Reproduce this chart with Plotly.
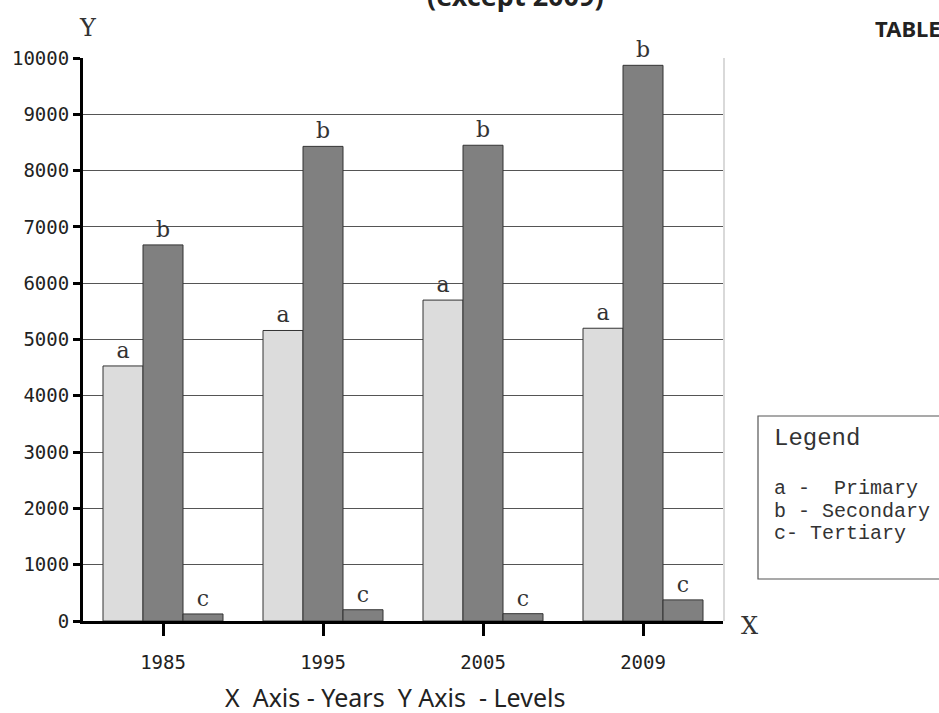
import plotly.graph_objects as go

years = ["1985", "1995", "2005", "2009"]
primary = [4530, 5160, 5700, 5200]
secondary = [6680, 8430, 8450, 9870]
tertiary = [125, 200, 130, 375]
series_names = ["a", "b", "c"]
legend_lines = ["a -  Primary", "b - Secondary", "c- Tertiary"]
y_ticks = [0, 1000, 2000, 3000, 4000, 5000, 6000, 7000, 8000, 9000, 10000]
y_tick_text = [str(v) for v in y_ticks]

W, H = 939, 713
L, R, T, B = 83, 216, 58, 92
PW, PH = W - L - R, H - T - B


def px(x):
    return (x - L) / PW


def py(y):
    return (H - B - y) / PH


fig = go.Figure()
fills = ["#dcdcdc", "#808080", "#808080"]
for name, vals, col in zip(series_names, [primary, secondary, tertiary], fills):
    fig.add_trace(go.Bar(
        x=years, y=vals, name=name, marker=dict(color=col, line=dict(color="#333333", width=1)),
        text=[name] * len(vals), textposition="outside", cliponaxis=False,
        textfont=dict(family="DejaVu Serif", size=22, color="#333333"),
        outsidetextfont=dict(family="DejaVu Serif", size=22, color="#333333"),
    ))

fig.update_layout(
    width=W, height=H, margin=dict(l=L, r=R, t=T, b=B),
    paper_bgcolor="white", plot_bgcolor="white",
    barmode="group", bargap=0.25, bargroupgap=0, showlegend=False,
    xaxis=dict(type="category", categoryorder="array", categoryarray=years,
               showline=True, linewidth=3, linecolor="black", ticks="outside",
               ticklen=12, tickwidth=3, tickcolor="black", showgrid=False,
               ticklabelstandoff=10,
               tickfont=dict(family="DejaVu Sans Mono", size=19, color="#222222")),
    yaxis=dict(range=[0, 10000], tickvals=y_ticks, ticktext=y_tick_text, showline=True, linewidth=3,
               linecolor="black", ticks="outside", ticklen=7, tickwidth=3,
               tickcolor="black", showgrid=True, gridcolor="#555555", gridwidth=1,
               zeroline=False,
               tickfont=dict(family="DejaVu Sans Mono", size=19, color="#222222")),
)

shapes = [
    dict(type="line", xref="paper", yref="paper", x0=px(724), x1=px(724), y0=0, y1=1,
         line=dict(color="#cccccc", width=1.5)),
    dict(type="rect", xref="paper", yref="paper", x0=px(758), x1=px(950), y0=py(416), y1=py(579),
         line=dict(color="#555555", width=1.2)),
]
fig.update_layout(shapes=shapes)

ann = []
ann.append(dict(text="Y", x=px(88), y=py(28), font=dict(family="DejaVu Serif", size=24, color="#333333")))
ann.append(dict(text="X", x=px(749), y=py(626), font=dict(family="DejaVu Serif", size=24, color="#333333")))
ann.append(dict(text="<b>(except 2009)</b>", x=px(515), y=py(-5), font=dict(family="Noto Sans", size=27, color="#222222")))
ann.append(dict(text="<b>TABLE</b>", x=px(873), y=py(28), xanchor="left", font=dict(family="Noto Sans", size=22, color="#222222")))
ann.append(dict(text="X  Axis - Years  Y Axis  - Levels", x=px(395), y=py(697),
                font=dict(family="Noto Sans", size=25, color="#222222")))
ann.append(dict(text="Legend", x=px(772), y=py(438), xanchor="left",
                font=dict(family="Liberation Mono", size=24, color="#333333")))
for txt, yy in zip(legend_lines, [488, 511, 533]):
    ann.append(dict(text=txt, x=px(772), y=py(yy), xanchor="left",
                    font=dict(family="Liberation Mono", size=20, color="#333333")))
for a in ann:
    a.setdefault("xanchor", "center")
    a.update(xref="paper", yref="paper", yanchor="middle", showarrow=False)
fig.update_layout(annotations=ann)

fig.write_html("out.html", config={"displayModeBar": False},
               post_script="document.body.style.margin='0';document.body.style.overflow='hidden';")
